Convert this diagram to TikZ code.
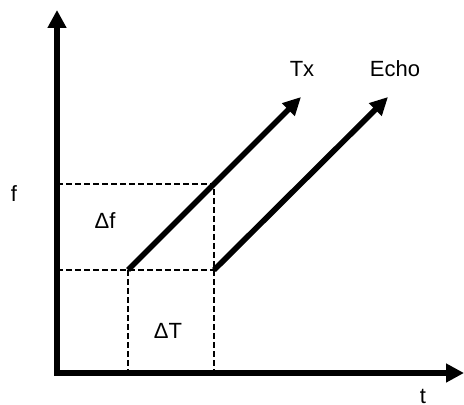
\documentclass[tikz,border=0pt]{standalone}
\usepackage{fontspec}
\setmainfont{Liberation Sans}
\usetikzlibrary{arrows.meta}
\begin{document}
\begin{tikzpicture}[x=0.5pt,y=-0.5pt]
  \tikzstyle{axis}=[line width=2.8pt,line join=miter,{Triangle[length=9pt,width=9pt]}-{Triangle[length=9pt,width=9pt]}]
  \tikzstyle{sweep}=[line width=2.8pt,-{Triangle[length=9pt,width=8.5pt]}]
  \tikzstyle{guide}=[line width=0.7pt,dash pattern=on 2.8pt off 1.7pt]
  \tikzstyle{lab}=[font=\fontsize{11}{13}\selectfont,inner sep=0pt]
  \useasboundingbox (0,0) rectangle (464,405);
  \coordinate (ytop) at (57,10) ;
  \coordinate (xend) at (464,373) ;
  \coordinate (f0) at (57,270) ;
  \coordinate (f1) at (57,184) ;
  \coordinate (tx0) at (128,270) ;
  \coordinate (tx1) at (214,184) ;
  \coordinate (txend) at (301,97) ;
  \coordinate (echo0) at (214,270) ;
  \coordinate (echoend) at (388,97) ;
  \coordinate (t0) at (128,373) ;
  \coordinate (t1) at (214,373) ;
  \draw [guide] (f1) -- (tx1) -- (t1) ;
  \draw [guide] (f0) -- (echo0) ;
  \draw [guide] (tx0) -- (t0) ;
  \draw [axis] (ytop) |- (xend) ;
  \draw [sweep] (tx0) -- (txend) ;
  \draw [sweep] (echo0) -- (echoend) ;
  \node [lab] (flab) at (14,194) {f} ;
  \node [lab] (tlab) at (423,396) {t} ;
  \node [lab] (dflab) at (105,221) {Δf} ;
  \node [lab] (dtlab) at (168,331) {ΔT} ;
  \node [lab] (txlab) at (302,69) {Tx} ;
  \node [lab] (echolab) at (395,69) {Echo} ;
\end{tikzpicture}
\end{document}
